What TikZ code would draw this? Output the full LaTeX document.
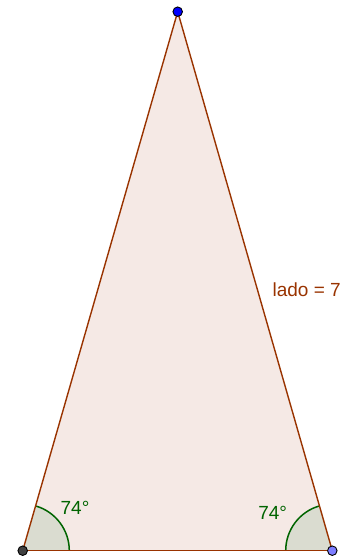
\documentclass[tikz,border=0pt]{standalone}
\usepackage{fontspec}
\setmainfont{Liberation Sans}
\usepackage{tikz}
\usetikzlibrary{calc}
\definecolor{ladobrown}{RGB}{153, 51, 0}
\definecolor{ladofill}{RGB}{245, 233, 229}
\definecolor{anglegreen}{RGB}{0, 100, 0}
\definecolor{anglefill}{RGB}{218, 220, 208}
\definecolor{ptdark}{RGB}{64, 64, 64}
\definecolor{ptlight}{RGB}{125, 125, 255}
\tikzset{
    edge/.style={ladobrown, line width=1.4pt},
    anglearc/.style={anglegreen, line width=1.5pt},
    vertex/.style={circle, draw=black, line width=0.9pt, minimum size=9.5pt, inner sep=0pt},
    anglelabel/.style={anglegreen, font=\fontsize{19}{19}\selectfont},
}

\begin{document}
\begin{tikzpicture}[x=1pt, y=1pt]
    \useasboundingbox (0,0) rectangle (355,560);
    % Vertices
    \coordinate (A) at (22.7, 9.3);
    \coordinate (B) at (332.3, 9.3);
    \coordinate (C) at (177.7, 548.3);
    % Triangle fill
    \fill[ladofill] (A) -- (B) -- (C) -- cycle;
    % Angle sectors
    \fill[anglefill] (A) -- ++(0:46.6) arc (0:74:46.6) -- cycle;
    \fill[anglefill] (B) -- ++(106:46.6) arc (106:180:46.6) -- cycle;
    \draw[anglearc] ($(A)+(0:46.6)$) arc (0:74:46.6);
    \draw[anglearc] ($(B)+(106:46.6)$) arc (106:180:46.6);
    % Sides
    \draw[edge] (A) -- (B);
    \draw[edge] (B) -- (C);
    \draw[edge] (C) -- (A);
    % Points
    \node[vertex, fill=ptdark] (pA) at (A) {};
    \node[vertex, fill=ptlight] (pB) at (B) {};
    \node[vertex, fill=blue] (pC) at (C) {};
    % Labels
    \node[anglelabel] (angA) at (75, 52) {74°};
    \node[anglelabel] (angB) at (272.7, 46.7) {74°};
    \node[ladobrown, font=\fontsize{19}{19}\selectfont] (lado) at (306.7, 270) {lado = 7};
\end{tikzpicture}
\end{document}
